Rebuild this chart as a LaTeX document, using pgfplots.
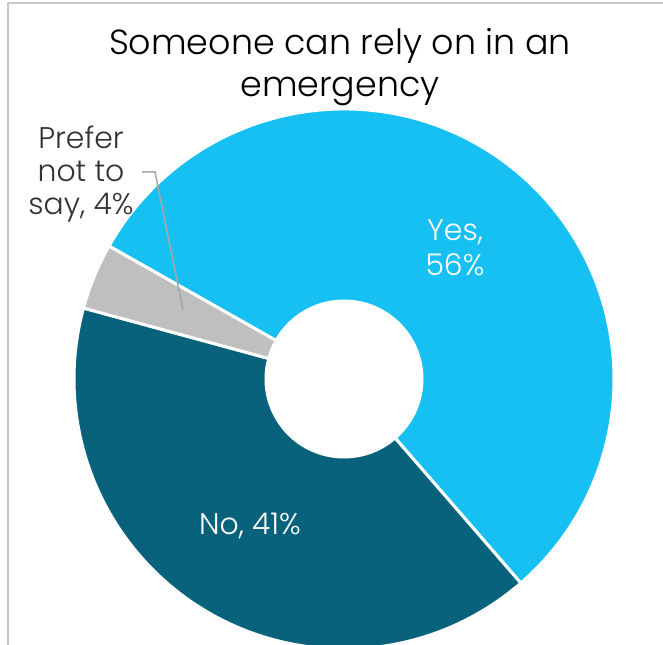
\documentclass[border=0pt]{standalone}
\usepackage{fontspec}
\setmainfont{Poppins}[UprightFont=* Light]
\usepackage{pgfplots}
\usepackage{pgfplotstable}
\pgfplotsset{compat=1.18}
\usetikzlibrary{calc}
\definecolor{yescol}{HTML}{17C0F2}
\definecolor{nocol}{HTML}{08627C}
\definecolor{prefcol}{HTML}{BFBFBF}
\definecolor{leadcol}{HTML}{A6A6A6}
\definecolor{framecol}{HTML}{C8C8C8}
\pgfplotstableread[col sep=comma]{
label,value
Yes,56
No,41
Prefer,4
}\datatable
\begin{document}%
\begin{tikzpicture}
\pgfplotstablegetelem{0}{value}\of\datatable \let\vYes\pgfplotsretval
\pgfplotstablegetelem{1}{value}\of\datatable \let\vNo\pgfplotsretval
\pgfplotstablegetelem{2}{value}\of\datatable \let\vPref\pgfplotsretval
\pgfmathsetmacro\tot{\vYes+\vNo+\vPref}
\pgfmathsetmacro\aA{150.5}
\pgfmathsetmacro\aB{\aA-\vYes/\tot*360}
\pgfmathsetmacro\aC{\aB-\vNo/\tot*360}
\pgfmathsetmacro\aD{\aC-\vPref/\tot*360}
\begin{axis}[
  at={(0,0)}, anchor=south west,
  width=663bp, height=645bp, scale only axis,
  xmin=0, xmax=663, ymin=0, ymax=645,
  enlargelimits=false, hide axis, clip=false]
\coordinate (C) at (axis cs:344,266);
\newcommand\slice[3]{%
  \filldraw[fill=#3, draw=white, line width=3bp]
    ($(C)+(#1:270bp)$) arc[start angle=#1, end angle=#2, radius=270bp]
    -- ($(C)+(#2:78bp)$) arc[start angle=#2, end angle=#1, radius=78bp] -- cycle;}
\slice{\aA}{\aB}{yescol}
\slice{\aB}{\aC}{nocol}
\slice{\aC}{\aD}{prefcol}
\draw[framecol, line width=1.5bp] (axis cs:8,-5) -- (axis cs:8,642) -- (axis cs:670,642);
\draw[leadcol, line width=1.5bp] (axis cs:142,473) -- (axis cs:155,473) -- (axis cs:183,335);
\node[align=center, font=\fontsize{35}{42}\selectfont, text=black] at (axis cs:340,578)
  {Someone can rely on in an\\emergency};
\node[align=center, font=\fontsize{30}{35}\selectfont, text=white] at (axis cs:455,397)
  {Yes,\\56\%};
\node[align=center, font=\fontsize{30}{35}\selectfont, text=white] at (axis cs:250,119)
  {No, 41\%};
\node[align=center, font=\fontsize{30}{33}\selectfont, text=black!80] at (axis cs:81,471)
  {Prefer\\not to\\say, 4\%};
\end{axis}
\pgfresetboundingbox
\useasboundingbox (0,0) rectangle (663bp,645bp);
\end{tikzpicture}%
\end{document}
